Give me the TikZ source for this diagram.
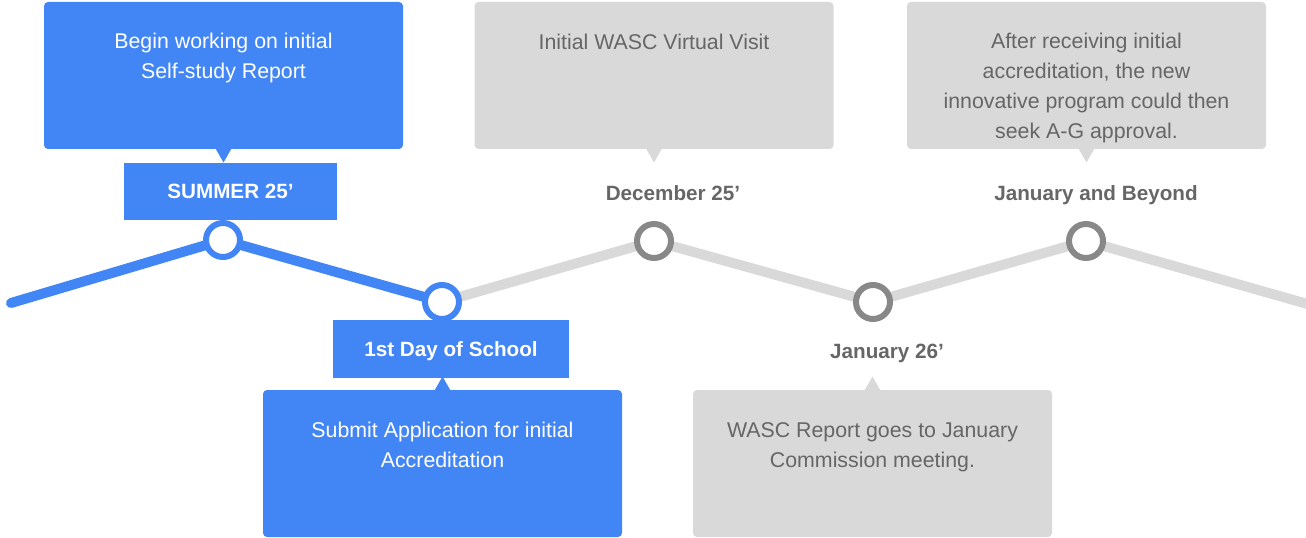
\documentclass[tikz,border=0pt]{standalone}
\usepackage{fontspec}
\setmainfont{Liberation Sans}

\definecolor{gblue}{RGB}{66,133,244}
\definecolor{lgray}{RGB}{217,217,217}
\definecolor{dgray}{RGB}{102,102,102}
\definecolor{mgray}{RGB}{136,136,136}

\tikzset{every picture/.style={line width=0.75pt}}

\begin{document}
\begin{tikzpicture}[x=0.75pt,y=0.75pt,yscale=-1,xscale=1,
    card/.style={rounded corners=3pt, minimum width=269.25pt, minimum height=110.25pt, inner sep=0pt},
    note/.style={font=\fontsize{16}{22.5}\selectfont, align=center},
    datefont/.style={font=\bfseries\fontsize{15.5}{18}\selectfont, text height=11pt, text depth=0pt, inner sep=0pt},
    datebox/.style={datefont, fill=gblue, text=white, minimum height=43pt},
    datetext/.style={datefont, text=dgray},
    dot/.style={circle, draw, fill=white, line width=4.5pt, minimum size=25.5pt, inner sep=0pt},
    track/.style={line width=7.5pt, line cap=round, line join=round}]
        \useasboundingbox (0,0) rectangle (1306,538);

        % Track
        \coordinate (p0) at (11,303);
        \coordinate (p1) at (223,240);
        \coordinate (p2) at (442,302);
        \coordinate (p3) at (654,241);
        \coordinate (p4) at (873,302);
        \coordinate (p5) at (1086,241);
        \coordinate (p6) at (1318,307);
        \draw [track, color=lgray] (p2) -- (p3) -- (p4) -- (p5) -- (p6);
        \draw [track, color=gblue] (p0) -- (p1) -- (p2);

        % Milestones
        \node [dot, draw=gblue] (m1) at (p1) {};
        \node [dot, draw=gblue] (m2) at (p2) {};
        \node [dot, draw=mgray] (m3) at (p3) {};
        \node [dot, draw=mgray] (m4) at (p4) {};
        \node [dot, draw=mgray] (m5) at (p5) {};

        % Cards above
        \node [card, fill=gblue] (c1) at (223.5,75.5) {};
        \fill [gblue] (c1.south) ++(-8,-1) -- ++(16,0) -- ++(-8,14) -- cycle;
        \node [note, text=white] (t1) at (223.5,58) {Begin working on initial\\Self-study Report};

        \node [card, fill=lgray] (c3) at (654,75.5) {};
        \fill [lgray] (c3.south) ++(-8,-1) -- ++(16,0) -- ++(-8,14) -- cycle;
        \node [note, text=dgray] (t3) at (654,42) {Initial WASC Virtual Visit};

        \node [card, fill=lgray] (c5) at (1086.5,75.5) {};
        \fill [lgray] (c5.south) ++(-8,-1) -- ++(16,0) -- ++(-8,14) -- cycle;
        \node [note, text=dgray] (t5) at (1086.5,88) {After receiving initial\\accreditation, the new\\innovative program could then\\seek A-G approval.};

        % Cards below
        \node [card, fill=gblue] (c2) at (442.5,463.5) {};
        \fill [gblue] (c2.north) ++(-8,1) -- ++(16,0) -- ++(-8,-14) -- cycle;
        \node [note, text=white] (t2) at (442.5,445) {Submit Application for initial\\Accreditation};

        \node [card, fill=lgray] (c4) at (872.5,463.5) {};
        \fill [lgray] (c4.north) ++(-8,1) -- ++(16,0) -- ++(-8,-14) -- cycle;
        \node [note, text=dgray] (t4) at (872.5,447) {WASC Report goes to January\\Commission meeting.};

        % Dates
        \node [datebox, minimum width=159.75pt] (d1) at (230.5,191.5) {SUMMER 25’};
        \node [datebox, minimum width=177pt] (d2) at (451,349) {1st Day of School};
        \node [datetext] (d3) at (673,193.5) {December 25’};
        \node [datetext] (d4) at (887,351.5) {January 26’};
        \node [datetext] (d5) at (1096,193.5) {January and Beyond};

\end{tikzpicture}
\end{document}
